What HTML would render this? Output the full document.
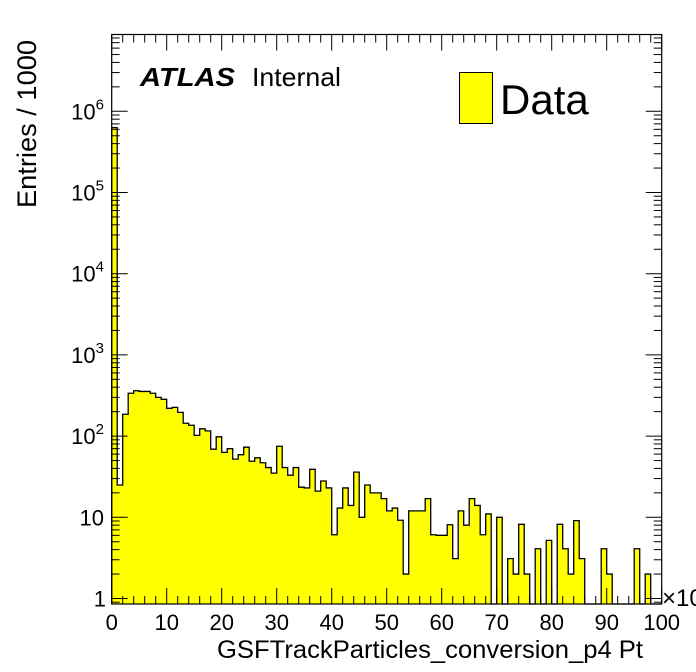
<!DOCTYPE html>
<html><head><meta charset="utf-8"><style>
html,body{margin:0;padding:0;background:#fff;}
svg{display:block;font-family:"Liberation Sans",sans-serif;}
</style></head><body>
<svg id="chart" width="696" height="672" viewBox="0 0 696 672" xmlns="http://www.w3.org/2000/svg">
<g id="bars"></g>
<g id="axes"></g>
<text x="140" y="86" font-size="26" font-weight="bold" font-style="italic" textLength="95" lengthAdjust="spacingAndGlyphs">ATLAS</text>
<text x="252" y="86" font-size="26" textLength="89" lengthAdjust="spacingAndGlyphs">Internal</text>
<rect x="459.5" y="72.5" width="33" height="51" fill="#ffff00" stroke="#000" stroke-width="1"/>
<text x="500" y="114" font-size="42">Data</text>
<text x="643" y="658" font-size="25" text-anchor="end" textLength="426" lengthAdjust="spacingAndGlyphs">GSFTrackParticles_conversion_p4 Pt</text>
<text transform="translate(36,40) rotate(-90)" font-size="27" text-anchor="end" textLength="168" lengthAdjust="spacingAndGlyphs">Entries / 1000</text>
<text x="662" y="606" font-size="24">×10</text>
</svg>
<script>
const binCounts = [630000,25,186,337,362,355,355,337,300,284,220,226,196,144,136,102,123,116,69,98,63,70,52,59,73,49,54,47,41,35,75,41,33,41,23.5,23,39,21,28,23,6.1,13,23,14,36,10,25,20,20,17,12,13,9.2,2,12,12,12,17,6.1,6,6,8.1,3.1,12,8,17,14,6.1,11,0,10,0,3.1,2,8.2,2,0,4.1,0,5.2,0,8.2,4.1,2,9.1,3.1,0,0,0,4.1,2,0,0,0,0,4.1,0,2,0,0];
const xTickLabels = ["0","10","20","30","40","50","60","70","80","90","100"];
const yTickExps = [0,1,2,3,4,5,6];
const xMin=0,xMax=100,X0=111.7,X1=661.7;
const Y0=604,Y1=34.5,yOne=598.5,dec=81.2;
const xs=v=>X0+(v-xMin)/(xMax-xMin)*(X1-X0);
const ys=v=>yOne-Math.log10(v)*dec;
const NS="http://www.w3.org/2000/svg";
function mk(tag,attrs,parent){const e=document.createElementNS(NS,tag);for(const k in attrs)e.setAttribute(k,attrs[k]);parent.appendChild(e);return e;}
const bars=document.getElementById('bars'),axes=document.getElementById('axes');
const bw=(xMax-xMin)/binCounts.length;
let d="M"+X0+","+Y0;
binCounts.forEach((c,i)=>{
  const xa=xs(xMin+i*bw),xb=xs(xMin+(i+1)*bw);
  const y=c>0?Math.max(ys(c),Y1):Y0;
  d+=" L"+xa+","+y+" L"+xb+","+y;
  if(c>0){const r=mk('rect',{x:xa-0.3,y:y,width:xb-xa+0.6,height:Y0-y,fill:'#ffff00','shape-rendering':'crispEdges'},bars);
    
    }
});
d+=" L"+X1+","+Y0;
const outline=mk('path',{d:d,fill:'none',stroke:'#000','stroke-width':1.3},bars);


const frame=mk('rect',{x:X0,y:Y1,width:X1-X0,height:Y0-Y1,fill:'none',stroke:'#000','stroke-width':1.2},axes);


for(let v=0;v<=100;v+=2){
  const x=xs(v),L=(v%10===0)?16:8;
  mk('line',{x1:x,y1:Y0,x2:x,y2:Y0-L,stroke:'#000'},axes);
  mk('line',{x1:x,y1:Y1,x2:x,y2:Y1+L,stroke:'#000'},axes);
}
xTickLabels.forEach((t,i)=>{
  const tx=mk('text',{x:xs(i*10),y:630,'font-size':22,'text-anchor':'middle'},axes);
  tx.textContent=t;
  
  
});
for(let e=-1;e<=7;e++){for(let m=1;m<10;m++){
  const v=m*Math.pow(10,e),y=ys(v);
  if(y>Y0||y<Y1)continue;
  const L=m===1?16:8;
  mk('line',{x1:X0,y1:y,x2:X0+L,y2:y,stroke:'#000'},axes);
  mk('line',{x1:X1,y1:y,x2:X1-L,y2:y,stroke:'#000'},axes);
}}
yTickExps.forEach(e=>{
  const y=ys(Math.pow(10,e));
  const t=mk('text',{y:y+8,'font-size':22,'text-anchor':'end'},axes);
  
  
  if(e===0){t.setAttribute('x',106);t.textContent='1';}
  else if(e===1){t.setAttribute('x',104);t.textContent='10';}
  else{t.setAttribute('x',104);t.textContent='10';
    const s=mk('tspan',{dy:-10,'font-size':15},t);s.textContent=String(e);}
});
</script>
</body></html>
